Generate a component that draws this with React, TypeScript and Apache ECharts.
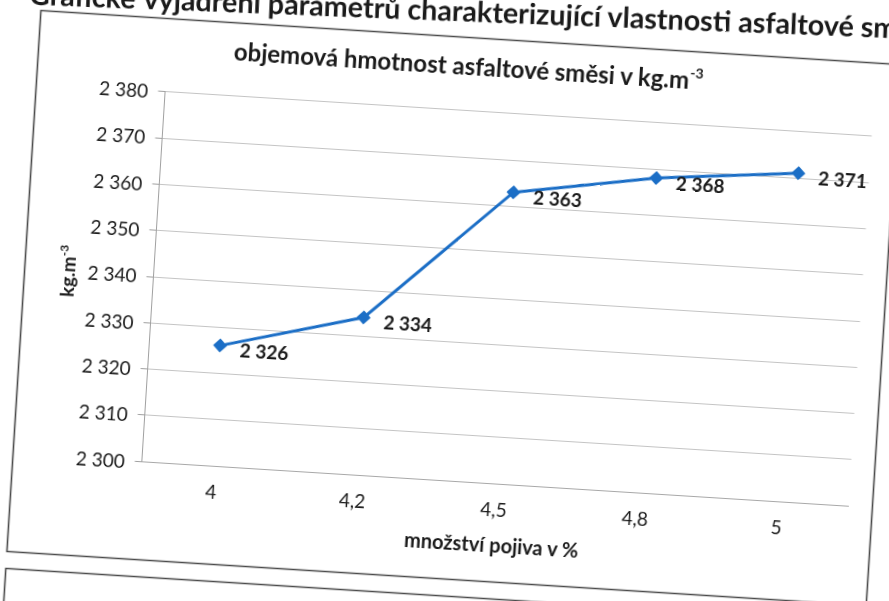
import React, { useEffect, useRef } from "react";
import * as echarts from "echarts";

const categories = ["4", "4,2", "4,5", "4,8", "5"];
const density = [2326, 2334, 2363, 2368, 2371];
const yMin = 2300;
const yMax = 2380;
const yStep = 10;

const heading = ["Grafické", "vyjádření parametrů charakterizující vlastnosti asfaltové směsi"];
const chartTitle = ["objemová hmotnost asfaltové směsi v kg.m", "-3"];
const xName = "množství pojiva v %";
const yName = ["kg.m", "-3"];

const W = 1000;
const H = 760;
const OX = 55.5;
const OY = 79.5;
const FONT = "Lato, 'Open Sans', sans-serif";
const INK = "#1a1a1a";

const fmt = (v: number) => String(v).replace(/\B(?=(\d{3})+(?!\d))/g, " ");

export default function App() {
  const ref = useRef<HTMLDivElement>(null);
  useEffect(() => {
    document.body.style.overflow = "hidden";
    const chart = echarts.init(ref.current!, null, { renderer: "svg" });
    const option: any = {
      animation: false,
      textStyle: { fontFamily: FONT },
      grid: { left: 152 + OX, top: 109 + OY, width: 708, height: 370.5, containLabel: false },
      xAxis: {
        type: "category",
        data: categories,
        boundaryGap: true,
        axisLine: { show: true, lineStyle: { color: "#a8a8a8", width: 1 } },
        axisTick: { show: false },
        axisLabel: { color: INK, fontSize: 19, fontFamily: FONT, margin: 16 },
        name: xName,
        nameLocation: "middle",
        nameGap: 51,
        nameTextStyle: { color: INK, fontSize: 20, fontWeight: "bold", fontFamily: FONT },
      },
      yAxis: {
        type: "value",
        min: yMin,
        max: yMax,
        interval: yStep,
        axisLine: { show: true, lineStyle: { color: "#a0a0a0", width: 1 } },
        axisTick: { show: true, inside: false, length: 7, lineStyle: { color: "#a0a0a0" } },
        splitLine: { show: true, lineStyle: { color: "#c4c4c4", width: 1 } },
        axisLabel: { color: INK, fontSize: 19, fontFamily: FONT, margin: 17, formatter: (v: number) => fmt(v) },
        name: `{a|${yName[0]}}{s|${yName[1]}}`,
        nameLocation: "middle",
        nameGap: 75,
        nameTextStyle: {
          color: INK,
          rich: {
            a: { fontSize: 19, fontWeight: "bold", fontFamily: FONT, color: INK, lineHeight: 22 },
            s: { fontSize: 12, fontWeight: "bold", fontFamily: FONT, color: INK, verticalAlign: "top", lineHeight: 22 },
          },
        },
      },
      series: [
        {
          type: "line",
          data: density,
          symbol: "diamond",
          symbolSize: 14,
          lineStyle: { color: "#1b6ec6", width: 3 },
          itemStyle: { color: "#1b6ec6" },
          label: {
            show: true,
            position: "right",
            distance: 13,
            offset: [0, 3],
            color: INK,
            fontSize: 19,
            fontWeight: "bold",
            fontFamily: FONT,
            formatter: (p: any) => fmt(p.value),
          },
        },
      ],
      graphic: [
        {
          type: "rect",
          z: 0,
          shape: { x: 23 + OX, y: 36 + OY, width: 861, height: 542 },
          style: { fill: "none", stroke: "#4a4a4a", lineWidth: 1.6 },
        },
        {
          type: "rect",
          z: 0,
          shape: { x: 23 + OX, y: 595 + OY, width: 861, height: 200 },
          style: { fill: "none", stroke: "#4a4a4a", lineWidth: 1.6 },
        },
        {
          type: "group",
          x: 125 + OX,
          y: 30 + OY,
          rotation: 0.0242,
          z: 10,
          children: [
            {
              type: "text",
              x: -8,
              y: -13,
              style: {
                text: heading[0],
                fill: INK,
                fontSize: 28.7,
                fontWeight: "bold",
                fontFamily: FONT,
                textAlign: "right",
                textVerticalAlign: "middle",
              },
            },
            {
              type: "text",
              x: 0,
              y: -13,
              style: {
                text: heading[1],
                fill: INK,
                fontSize: 28.7,
                fontWeight: "bold",
                fontFamily: FONT,
                textAlign: "left",
                textVerticalAlign: "middle",
              },
            },
          ],
        },
        {
          type: "text",
          x: 453 + OX,
          y: 64 + OY,
          z: 10,
          style: {
            text: `{a|${chartTitle[0]}}{s|${chartTitle[1]}}`,
            fill: INK,
            textAlign: "center",
            textVerticalAlign: "middle",
            rich: {
              a: { fontSize: 24, fontWeight: "bold", fontFamily: FONT, fill: INK, lineHeight: 28 },
              s: { fontSize: 14, fontWeight: "bold", fontFamily: FONT, fill: INK, verticalAlign: "top", lineHeight: 28 },
            },
          },
        },
      ],
    };
    chart.setOption(option);
    return () => chart.dispose();
  }, []);
  return (
    <div
      style={{
        position: "fixed",
        left: 444.5 - W / 2,
        top: 300.5 - H / 2,
        width: W,
        height: H,
        transform: "rotate(3.6deg)",
        transformOrigin: "50% 50%",
        background: "#ffffff",
      }}
    >
      <div ref={ref} style={{ width: W, height: H }} />
    </div>
  );
}
